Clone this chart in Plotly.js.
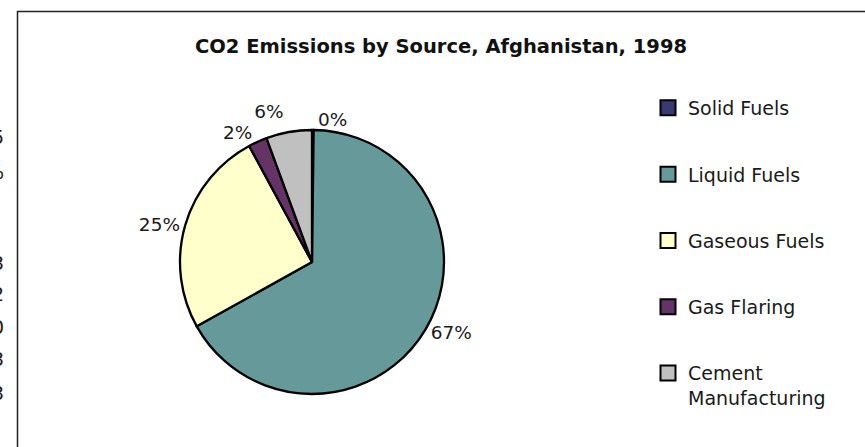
<!DOCTYPE html>
<html>
<head>
<meta charset="utf-8">
<script src="https://cdn.plot.ly/plotly-3.0.1.min.js"></script>
<style>html,body{margin:0;padding:0;background:#fff;}#chart{width:865px;height:447px;} #chart path.textline{display:none;}</style>
</head>
<body>
<div id="chart"></div>
<script>
// ---- data ----
var categories = ["Solid Fuels", "Liquid Fuels", "Gaseous Fuels", "Gas Flaring", "Cement Manufacturing"];
var legendLabels = ["Solid Fuels", "Liquid Fuels", "Gaseous Fuels", "Gas Flaring", "Cement<br>Manufacturing"];
var shares = [0.2, 66.7, 25.2, 2.3, 5.6];
var colors = ["#3a3a72", "#669999", "#ffffcc", "#663366", "#c0c0c0"];
var edgeTexts = ["5", "%", "3", "2", "0", "3", "3"];
var edgeTextY = [137, 172, 263, 294, 327, 359, 393];
var titleText = "CO2 Emissions by Source, Afghanistan, 1998";

var W = 865, H = 447;
var FONT = "DejaVu Sans, sans-serif";

var traces = [{
  type: "pie",
  labels: categories,
  values: shares,
  sort: false,
  direction: "clockwise",
  rotation: 0,
  marker: {colors: colors, line: {color: "#000", width: 2.3}},
  textposition: "outside",
  texttemplate: "%{percent:.0%}",
  textfont: {family: FONT, size: 18.5, color: "#1a1a1a"},
  showlegend: false,
  hoverinfo: "label+percent",
  domain: {x: [180 / W, 444 / W], y: [(H - 394) / H, (H - 130) / H]}
}];

categories.forEach(function (c, i) {
  traces.push({
    type: "scatter",
    mode: "markers",
    x: [null], y: [null],
    name: legendLabels[i],
    legendgroup: "g" + i,
    marker: {symbol: "square", size: 15, color: colors[i], line: {color: "#000", width: 2}},
    showlegend: true,
    hoverinfo: "skip"
  });
});

var annotations = edgeTexts.map(function (t, i) {
  return {
    xref: "paper", yref: "paper",
    x: 6 / W, y: 1 - edgeTextY[i] / H,
    xanchor: "right", yanchor: "middle",
    text: t, showarrow: false,
    font: {family: FONT, size: 19, color: "#1a1a1a"}
  };
});

var layout = {
  width: W, height: H,
  margin: {l: 0, r: 0, t: 0, b: 0},
  paper_bgcolor: "#fff",
  plot_bgcolor: "rgba(0,0,0,0)",
  xaxis: {visible: false},
  yaxis: {visible: false},
  title: {
    text: "<b>" + titleText + "</b>",
    x: 441 / W, xanchor: "center",
    y: 1 - 46 / H, yanchor: "middle",
    font: {family: FONT, size: 19.5, color: "#111"}
  },
  showlegend: true,
  legend: {
    x: 648 / W, xanchor: "left",
    y: 1 - 89 / H, yanchor: "top",
    traceorder: "grouped",
    tracegroupgap: 38.6,
    valign: "top",
    font: {family: FONT, size: 19, color: "#1a1a1a"},
    bgcolor: "rgba(0,0,0,0)",
    borderwidth: 0
  },
  shapes: [{
    type: "rect", xref: "paper", yref: "paper",
    x0: 17.5 / W, x1: 1.05, y0: -0.05, y1: 1 - 11.5 / H,
    line: {color: "#222", width: 1.5}
  }],
  annotations: annotations
};

Plotly.newPlot("chart", traces, layout, {displayModeBar: false, staticPlot: true});
</script>
</body>
</html>
